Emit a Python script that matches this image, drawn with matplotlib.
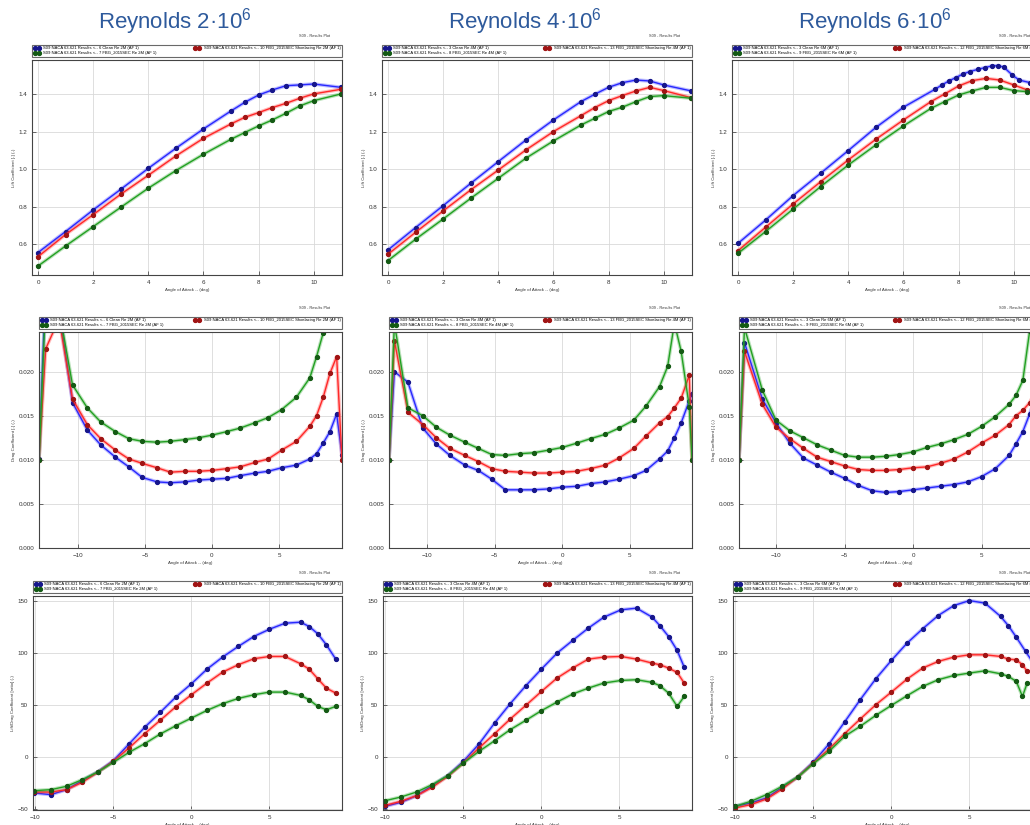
import numpy as np
import matplotlib.pyplot as plt

plt.rcParams['font.family'] = ['Liberation Sans', 'DejaVu Sans']
plt.rcParams['mathtext.default'] = 'regular'

W, H = 1030, 825

titles = ["Reynolds 2·10$^6$", "Reynolds 4·10$^6$", "Reynolds 6·10$^6$"]
re_tags = ["2M", "4M", "6M"]
clean_ids = ["6", "3", "3"]
shoe_ids = ["10", "13", "12"]
fbg_ids = ["7", "8", "9"]

# ---- lift coefficient, row 1
cl_x = [0, 1, 2, 3, 4, 5, 6, 7, 7.5, 8, 8.5, 9, 9.5, 10, 11]
cl_clean_2 = [0.556, 0.668, 0.783, 0.893, 1.005, 1.112, 1.215, 1.311, 1.357, 1.396, 1.423, 1.446, 1.45, 1.455, 1.437]
cl_shoe_2 = [0.534, 0.652, 0.758, 0.867, 0.968, 1.071, 1.165, 1.242, 1.277, 1.302, 1.329, 1.352, 1.379, 1.402, 1.427]
cl_fbg_2 = [0.484, 0.591, 0.694, 0.797, 0.899, 0.993, 1.08, 1.16, 1.196, 1.231, 1.263, 1.299, 1.338, 1.366, 1.402]

cl_clean_4 = [0.570, 0.689, 0.806, 0.925, 1.041, 1.156, 1.263, 1.361, 1.40, 1.437, 1.462, 1.476, 1.471, 1.45, 1.418]
cl_shoe_4 = [0.547, 0.664, 0.778, 0.89, 0.996, 1.103, 1.201, 1.286, 1.329, 1.366, 1.393, 1.418, 1.437, 1.42, 1.382]
cl_fbg_4 = [0.513, 0.627, 0.735, 0.845, 0.952, 1.059, 1.151, 1.236, 1.272, 1.308, 1.331, 1.361, 1.388, 1.393, 1.379]

cl_x_clean_6 = [0, 1, 2, 3, 4, 5, 6, 7.15, 7.4, 7.65, 7.9, 8.15, 8.4, 8.7, 8.95, 9.2, 9.45, 9.65, 9.95, 10.2, 10.6]
cl_clean_6 = [0.605, 0.729, 0.86, 0.979, 1.1, 1.223, 1.331, 1.427, 1.45, 1.471, 1.489, 1.507, 1.521, 1.533, 1.542,
              1.551, 1.553, 1.544, 1.503, 1.476, 1.462]
cl_x_6 = [0, 1, 2, 3, 4, 5, 6, 7, 7.5, 8, 8.5, 9, 9.5, 10, 10.5, 11]
cl_shoe_6 = [0.566, 0.691, 0.815, 0.934, 1.05, 1.16, 1.263, 1.361, 1.402, 1.444, 1.473, 1.485, 1.476, 1.45, 1.423, 1.41]
cl_fbg_6 = [0.552, 0.668, 0.788, 0.908, 1.023, 1.13, 1.231, 1.325, 1.361, 1.396, 1.418, 1.437, 1.437, 1.42, 1.414, 1.405]

# ---- drag coefficient, row 2
cd_x_2 = [-12.9, -12.4, -11.4, -10.4, -9.3, -8.3, -7.2, -6.2, -5.2, -4.1, -3.1, -2.0, -1.0, 0, 1.1, 2.1, 3.2, 4.2,
          5.2, 6.3, 7.3, 7.8, 8.3, 8.8, 9.3, 9.7]
cd_clean_2 = [0.0101, 0.030, 0.027, 0.0165, 0.0134, 0.0117, 0.0103, 0.0092, 0.0080, 0.0075, 0.0074, 0.0075, 0.0077,
              0.0078, 0.0079, 0.0082, 0.0085, 0.0087, 0.0091, 0.0094, 0.0101, 0.0107, 0.0119, 0.0132, 0.0152, 0.0105]
cd_shoe_2 = [0.0100, 0.0226, 0.026, 0.0169, 0.014, 0.0124, 0.0111, 0.0101, 0.0096, 0.0091, 0.0086, 0.0087, 0.0087,
             0.0088, 0.009, 0.0092, 0.0097, 0.0101, 0.0111, 0.0121, 0.0138, 0.015, 0.0171, 0.0198, 0.0217, 0.0100]
cd_fbg_2 = [0.0100, 0.028, 0.027, 0.0185, 0.0159, 0.0143, 0.0132, 0.0124, 0.0121, 0.012, 0.0121, 0.0123, 0.0125,
            0.0128, 0.0132, 0.0136, 0.0142, 0.0148, 0.0157, 0.0171, 0.0193, 0.0217, 0.0244, 0.028, 0.030, 0.028]

cd_x_4 = [-12.8, -12.4, -11.4, -10.3, -9.3, -8.3, -7.2, -6.2, -5.2, -4.2, -3.1, -2.1, -1.0, 0, 1.1, 2.1, 3.2, 4.2,
          5.3, 6.2, 7.2, 7.8, 8.3, 8.8, 9.4, 9.6]
cd_clean_4 = [0.0100, 0.020, 0.0188, 0.0136, 0.0118, 0.0105, 0.0094, 0.0088, 0.0078, 0.0066, 0.0066, 0.0066, 0.0067,
              0.0069, 0.007, 0.0073, 0.0075, 0.0078, 0.0082, 0.0088, 0.0101, 0.011, 0.0125, 0.0142, 0.0167, 0.0175]
cd_shoe_4 = [0.0100, 0.0235, 0.0154, 0.014, 0.0125, 0.0113, 0.0105, 0.0098, 0.009, 0.0087, 0.0086, 0.0085, 0.0085,
             0.0086, 0.0087, 0.009, 0.0094, 0.0102, 0.0113, 0.0127, 0.0142, 0.0149, 0.0159, 0.017, 0.0196, 0.0100]
cd_fbg_4 = [0.0100, 0.0255, 0.0159, 0.015, 0.0137, 0.0128, 0.012, 0.0113, 0.0106, 0.0105, 0.0107, 0.0108, 0.0111,
            0.0114, 0.0119, 0.0124, 0.0129, 0.0136, 0.0145, 0.0161, 0.0183, 0.0206, 0.0255, 0.0223, 0.0160, 0.0100]

cd_x_6 = [-12.7, -12.3, -11, -10, -9, -8, -7, -6, -5, -4, -3, -2, -1, 0, 1, 2, 3, 4, 5, 6, 7, 7.5, 8, 8.5, 9, 9.5]
cd_clean_6 = [0.0100, 0.0233, 0.0169, 0.0142, 0.0119, 0.0102, 0.0094, 0.0086, 0.0079, 0.0071, 0.0065, 0.0063, 0.0064,
              0.0066, 0.0068, 0.007, 0.0072, 0.0075, 0.0081, 0.009, 0.0105, 0.0118, 0.0132, 0.0152, 0.0175, 0.020]
cd_shoe_6 = [0.0100, 0.0223, 0.0163, 0.0137, 0.0124, 0.0113, 0.0103, 0.0098, 0.0093, 0.0089, 0.0088, 0.0088, 0.0089,
             0.0091, 0.0092, 0.0096, 0.0101, 0.0109, 0.0119, 0.0128, 0.014, 0.015, 0.0156, 0.0165, 0.018, 0.020]
cd_fbg_6 = [0.0100, 0.0250, 0.0179, 0.0145, 0.0133, 0.0125, 0.0117, 0.0111, 0.0105, 0.0103, 0.0103, 0.0104, 0.0106,
            0.0109, 0.0114, 0.0118, 0.0123, 0.0129, 0.0138, 0.0149, 0.0163, 0.0173, 0.019, 0.0246, 0.028, 0.030]

# ---- lift/drag ratio, row 3
ld_x_2 = [-10.1, -9, -8, -7, -6, -5, -4, -3, -2, -1, 0, 1, 2, 3, 4, 5, 6, 7, 7.55, 8.1, 8.65, 9.25]
ld_clean_2 = [-34.6, -36.2, -31.4, -22.8, -14.4, -3.5, 12.5, 28.5, 42.9, 57.7, 70.5, 84.6, 96.2, 106.4, 116, 123,
              128.8, 129.8, 125.6, 118.6, 108, 94.2]
ld_shoe_2 = [-33.7, -33.7, -31.4, -24.4, -14.7, -4.2, 8.7, 22.4, 35.3, 48.4, 59.9, 71.2, 81.7, 88.8, 94.6, 96.8,
             96.8, 89.7, 84.6, 75.3, 66.3, 61.5]
ld_fbg_2 = [-32.4, -31.4, -28.2, -21.8, -14.4, -5.1, 4.5, 12.8, 22.1, 30.1, 37.5, 44.9, 51.3, 56.4, 59.9, 62.5,
            62.5, 59.3, 55.1, 48.7, 45.5, 48.7]

ld_x_4 = [-10, -9, -8, -7, -6, -5, -4, -3, -2, -1, 0, 1, 2, 3, 4, 5.1, 6.1, 7.1, 7.6, 8.15, 8.7, 9.15]
ld_clean_4 = [-47.4, -43.6, -37.2, -27.6, -17.9, -4.2, 12.5, 32.7, 51.3, 68.6, 84.6, 100, 112.2, 124, 134.6, 141.7,
              143.3, 134.6, 126.3, 116, 102.6, 86.5]
ld_shoe_4 = [-46.5, -42.6, -37.2, -29.2, -18.6, -5.8, 8.7, 22.4, 36.5, 49.7, 63.1, 76, 85.6, 94.2, 96.2, 96.8,
             94.2, 90.4, 88.8, 85.6, 81.4, 71.2]
ld_fbg_4 = [-42, -38.5, -33.7, -26.6, -17.9, -5.8, 5.4, 15.7, 26.3, 35.3, 44.6, 52.9, 60.6, 66.3, 71.2, 73.7,
            74.4, 71.8, 68.6, 61.5, 48.7, 58.3]

ld_x_clean_6 = [-10, -9, -8, -7, -6, -5, -4, -3, -2, -1, 0, 1, 2, 3, 4, 5, 6, 7, 7.5, 8, 8.6, 9.2]
ld_clean_6 = [-47.4, -44.2, -39.4, -29.2, -19.2, -4.8, 12.5, 33.7, 55.1, 75.3, 93, 109.6, 123.4, 136.2, 145.8,
              150.6, 148.1, 135.3, 126.3, 115.4, 101.6, 88]
ld_x_6 = [-10, -9, -8, -7, -6, -5, -4, -3, -2, -1, 0, 1, 2, 3, 4, 5, 6, 7, 7.5, 8, 8.4, 8.7]
ld_shoe_6 = [-49, -45.8, -40.4, -30.8, -19.2, -5.8, 7.7, 22.4, 36.5, 50.3, 62.5, 75, 85.6, 92, 96.2, 98.4, 98.4,
             96.8, 94.2, 93.6, 88.8, 82.4]
ld_fbg_6 = [-47.4, -42.6, -36.2, -28.2, -19.2, -6.4, 5.4, 19.9, 29.5, 40.1, 49.7, 59, 67.9, 74.4, 78.5, 80.8, 83,
            80.1, 77.6, 72.8, 58.3, 71.2]

# panels: (row, col) -> [(x, y) clean, shoelacing, fbg]
panels = {
    (0, 0): [(cl_x, cl_clean_2), (cl_x, cl_shoe_2), (cl_x, cl_fbg_2)],
    (0, 1): [(cl_x, cl_clean_4), (cl_x, cl_shoe_4), (cl_x, cl_fbg_4)],
    (0, 2): [(cl_x_clean_6, cl_clean_6), (cl_x_6, cl_shoe_6), (cl_x_6, cl_fbg_6)],
    (1, 0): [(cd_x_2, cd_clean_2), (cd_x_2, cd_shoe_2), (cd_x_2, cd_fbg_2)],
    (1, 1): [(cd_x_4, cd_clean_4), (cd_x_4, cd_shoe_4), (cd_x_4, cd_fbg_4)],
    (1, 2): [(cd_x_6, cd_clean_6), (cd_x_6, cd_shoe_6), (cd_x_6, cd_fbg_6)],
    (2, 0): [(ld_x_2, ld_clean_2), (ld_x_2, ld_shoe_2), (ld_x_2, ld_fbg_2)],
    (2, 1): [(ld_x_4, ld_clean_4), (ld_x_4, ld_shoe_4), (ld_x_4, ld_fbg_4)],
    (2, 2): [(ld_x_clean_6, ld_clean_6), (ld_x_6, ld_shoe_6), (ld_x_6, ld_fbg_6)],
}

ylabels = ["Lift Coefficient [-] (-)", "Drag Coefficient [-] (-)", "Lift/Drag Coefficient [ratio] (-)"]
line_colors = ["#2828ff", "#ff2828", "#22a022"]
mark_colors = ["#16168c", "#a01414", "#145a14"]

# axes boxes in pixels
row_tops = [60, 332, 596]
row_bottoms = [275, 548, 810]
row_lefts = [[32, 382, 732], [39, 389, 739], [33, 383, 733]]
row_widths = [310, 303, 309]
xlims = [[(-0.22, 11.03)] * 3,
         [(-12.9, 9.7), (-12.8, 9.6), (-12.7, 9.4)],
         [(-10.15, 9.65)] * 3]
ylims = [(0.436, 1.583), (0.0, 0.0245), (-51, 155)]

fig = plt.figure(figsize=(W / 100, H / 100), dpi=100)

for r in range(3):
    for c in range(3):
        left = row_lefts[r][c]
        rect = [left / W, 1 - row_bottoms[r] / H, row_widths[r] / W, (row_bottoms[r] - row_tops[r]) / H]
        ax = fig.add_axes(rect)
        handles = []
        for (x, y), lc, mc in zip(panels[(r, c)], line_colors, mark_colors):
            ax.plot(x, y, color=lc, lw=2.6, alpha=0.3)
            h, = ax.plot(x, y, color=lc, lw=1.0, marker='o', ms=2.8, mfc=mc, mec=mc)
            handles.append(h)
        ax.set_xlim(*xlims[r][c])
        ax.set_ylim(*ylims[r])
        if r == 0:
            ax.set_xticks([0, 2, 4, 6, 8, 10])
            ax.set_yticks([0.6, 0.8, 1.0, 1.2, 1.4])
            ax.set_yticklabels(["0.6", "0.8", "1.0", "1.2", "1.4"])
        elif r == 1:
            ax.set_xticks([-10, -5, 0, 5])
            ax.set_yticks([0, 0.005, 0.010, 0.015, 0.020])
            ax.set_yticklabels(["0.000", "0.005", "0.010", "0.015", "0.020"])
        else:
            ax.set_xticks([-10, -5, 0, 5])
            ax.set_yticks([-50, 0, 50, 100, 150])
        ax.grid(True, color="#d9d9d9", lw=0.6)
        ax.set_axisbelow(True)
        ax.tick_params(labelsize=4.5, direction='in', length=3, width=0.5, colors="#333333")
        for s in ax.spines.values():
            s.set_linewidth(0.8)
            s.set_color("#444444")
        ax.set_xlabel("Angle of Attack -- (deg)", fontsize=3.2, labelpad=2, color="#333333")
        ax.set_ylabel(ylabels[r], fontsize=3.2, labelpad=2, color="#333333")

        labels = [
            "S09 NACA 63-621 Results <-- " + clean_ids[c] + " Clean Re " + re_tags[c] + " (AF 1)",
            "S09 NACA 63-621 Results <-- " + fbg_ids[c] + " FBG_2015SEC Re " + re_tags[c] + " (AF 1)",
            "S09 NACA 63-621 Results <-- " + shoe_ids[c] + " FBG_2015SEC Shoelacing Re " + re_tags[c] + " (AF 1)",
        ]
        leg = ax.legend([handles[0], handles[2], handles[1]], labels, loc='lower left',
                        bbox_to_anchor=(0, 1.015, 1, 0.05), mode='expand', ncol=2, fontsize=3,
                        fancybox=False, edgecolor="#444444", borderaxespad=0, numpoints=2,
                        handlelength=1.6, borderpad=0.35, labelspacing=0.25)
        leg.get_frame().set_linewidth(0.8)
        ax.text(0.96, 1.1, "S09 - Results Plot", transform=ax.transAxes, fontsize=2.8,
                ha='right', va='bottom', color="#333333")

for i, t in enumerate(titles):
    fig.text((175 + 350 * i) / W, 1 - 22 / H, t, fontsize=16, color="#2E5A9C",
             ha='center', va='center')

fig.savefig("out.png", dpi=100)
